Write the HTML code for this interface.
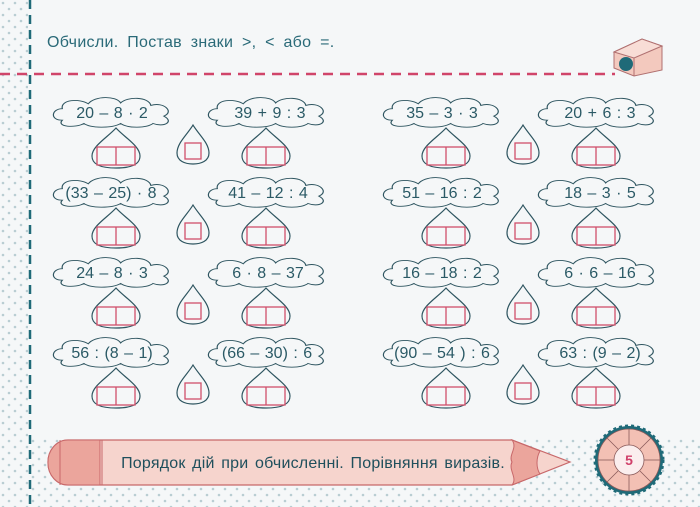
<!DOCTYPE html>
<html><head><meta charset="utf-8"><style>
html,body{margin:0;padding:0;background:#f5f7f8}
svg{display:block}
text{font-family:"Liberation Sans",sans-serif}
</style></head><body>
<svg width="700" height="507" viewBox="0 0 700 507" xmlns="http://www.w3.org/2000/svg">
<defs>
<pattern id="dots" width="12" height="12" patternUnits="userSpaceOnUse">
<circle cx="3" cy="3" r="1.3" fill="#b9cdd2"/><circle cx="9" cy="9" r="1.3" fill="#b9cdd2"/>
</pattern>
<symbol id="cloud" overflow="visible">
<path transform="scale(1.08,0.82)" d="M-46,10 C-58,10 -56,-4 -46,-4 C-48,-15 -30,-17 -22,-10 C-16,-20 4,-20 8,-11 C14,-19 34,-19 36,-8 C48,-13 58,0 48,5 C58,12 48,19 38,14 C32,20 14,20 8,14 C0,20 -20,20 -26,14 C-34,20 -52,18 -46,10Z" fill="#f5f7f8" stroke="#2e5560" stroke-width="1.1"/>
</symbol>
<symbol id="house" overflow="visible">
<path d="M0,-20 C8,-11 24,-2 24,8 C24,18 12,20 0,20 C-12,20 -24,18 -24,8 C-24,-2 -8,-11 0,-20Z" fill="#f5f7f8" stroke="#2e5560" stroke-width="1.2"/>
<rect x="-19" y="-1" width="38" height="18" fill="none" stroke="#d0506a" stroke-width="1.3"/>
<line x1="0" y1="-1" x2="0" y2="17" stroke="#d0506a" stroke-width="1.3"/>
</symbol>
<symbol id="drop" overflow="visible">
<path d="M0,-20 C6,-10 16,-2 16,8 C16,16 8,19 0,19 C-8,19 -16,16 -16,8 C-16,-2 -6,-10 0,-20Z" fill="#f5f7f8" stroke="#2e5560" stroke-width="1.2"/>
<rect x="-8" y="-2" width="16" height="16" fill="none" stroke="#d0506a" stroke-width="1.3"/>
</symbol>
</defs>
<rect x="0" y="0" width="28" height="507" fill="url(#dots)"/>
<rect x="28" y="438" width="672" height="69" fill="url(#dots)"/>
<line x1="30" y1="0" x2="30" y2="507" stroke="#1f6a78" stroke-width="2.5" stroke-dasharray="9,6"/>
<line x1="0" y1="74" x2="615" y2="74" stroke="#d0456a" stroke-width="2.5" stroke-dasharray="10,7"/>
<text x="47" y="47" font-size="16" word-spacing="4" letter-spacing="0.3" fill="#2a6a78">Обчисли. Постав знаки &gt;, &lt; або =.</text>
<g transform="translate(614,44)">
<path d="M0,8 L28,-5 L48,2 L48,26 L20,32 L0,24Z" fill="#f3c9be" stroke="#b07070" stroke-width="1"/>
<path d="M0,8 L28,-5 L48,2 L20,14Z" fill="#f8ddd6" stroke="#b07070" stroke-width="1"/>
<line x1="20" y1="14" x2="20" y2="32" stroke="#b07070"/>
<circle cx="12" cy="20" r="7" fill="#1f6a78"/>
</g>
<g font-size="16" word-spacing="1" fill="#2b5a66" text-anchor="middle">
<g>
<use href="#cloud" x="112" y="112"/><use href="#cloud" x="267" y="112"/>
<use href="#house" x="116" y="148"/><use href="#drop" x="193" y="145"/><use href="#house" x="266" y="148"/>
<use href="#cloud" x="112" y="192"/><use href="#cloud" x="267" y="192"/>
<use href="#house" x="116" y="228"/><use href="#drop" x="193" y="225"/><use href="#house" x="266" y="228"/>
<use href="#cloud" x="112" y="272"/><use href="#cloud" x="267" y="272"/>
<use href="#house" x="116" y="308"/><use href="#drop" x="193" y="305"/><use href="#house" x="266" y="308"/>
<use href="#cloud" x="112" y="352"/><use href="#cloud" x="267" y="352"/>
<use href="#house" x="116" y="388"/><use href="#drop" x="193" y="385"/><use href="#house" x="266" y="388"/>
</g>
<g>
<use href="#cloud" x="442" y="112"/><use href="#cloud" x="597" y="112"/>
<use href="#house" x="446" y="148"/><use href="#drop" x="523" y="145"/><use href="#house" x="596" y="148"/>
<use href="#cloud" x="442" y="192"/><use href="#cloud" x="597" y="192"/>
<use href="#house" x="446" y="228"/><use href="#drop" x="523" y="225"/><use href="#house" x="596" y="228"/>
<use href="#cloud" x="442" y="272"/><use href="#cloud" x="597" y="272"/>
<use href="#house" x="446" y="308"/><use href="#drop" x="523" y="305"/><use href="#house" x="596" y="308"/>
<use href="#cloud" x="442" y="352"/><use href="#cloud" x="597" y="352"/>
<use href="#house" x="446" y="388"/><use href="#drop" x="523" y="385"/><use href="#house" x="596" y="388"/>
</g>
<text x="112" y="118">20 – 8 · 2</text><text x="270" y="118">39 + 9 : 3</text>
<text x="111" y="198">(33 – 25) · 8</text><text x="268" y="198">41 – 12 : 4</text>
<text x="112" y="278">24 – 8 · 3</text><text x="268" y="278">6 · 8 – 37</text>
<text x="112" y="358">56 : (8 – 1)</text><text x="267" y="358">(66 – 30) : 6</text>
<text x="442" y="118">35 – 3 · 3</text><text x="600" y="118">20 + 6 : 3</text>
<text x="442" y="198">51 – 16 : 2</text><text x="600" y="198">18 – 3 · 5</text>
<text x="442" y="278">16 – 18 : 2</text><text x="600" y="278">6 · 6 – 16</text>
<text x="442" y="358">(90 – 54 ) : 6</text><text x="600" y="358">63 : (9 – 2)</text>
</g>
<path d="M68,440 L512,440 L570,462 L512,485 L68,485 A20,22 0 0 1 48,463 A20,22 0 0 1 68,440Z" fill="#f6d4cd" stroke="#c8686a" stroke-width="1.2"/>
<path d="M68,440 L100,440 L100,485 L68,485 A20,22 0 0 1 48,463 A20,22 0 0 1 68,440Z" fill="#eba59c" stroke="#c8686a" stroke-width="1"/>
<line x1="60" y1="440" x2="60" y2="485" stroke="#c8686a"/>
<line x1="102" y1="440" x2="102" y2="485" stroke="#c8686a"/>
<path d="M512,440 L540,451 C536,458 536,468 540,474 L512,485 C518,478 508,470 512,462 C508,455 518,448 512,440Z" fill="#eba59c" stroke="#c8686a" stroke-width="1"/>
<text x="313" y="468" font-size="16" word-spacing="2" letter-spacing="0.2" fill="#1f4f5c" text-anchor="middle">Порядок дій при обчисленні. Порівняння виразів.</text>
<g transform="translate(629,460)">
<circle r="34" fill="#1f6a78" stroke="#1f6a78" stroke-width="3" stroke-dasharray="3,3"/>
<circle r="31" fill="#f3c0b4" stroke="#8a5a5a" stroke-width="0.8"/>
<circle r="15" fill="#fbeeee" stroke="#8a5a5a" stroke-width="0.8"/>
<g stroke="#8a5a5a" stroke-width="0.8">
<line x1="15" y1="0" x2="31" y2="0"/><line x1="-15" y1="0" x2="-31" y2="0"/><line x1="0" y1="15" x2="0" y2="31"/><line x1="0" y1="-15" x2="0" y2="-31"/>
<line x1="11" y1="11" x2="22" y2="22"/><line x1="-11" y1="11" x2="-22" y2="22"/><line x1="11" y1="-11" x2="22" y2="-22"/><line x1="-11" y1="-11" x2="-22" y2="-22"/>
</g>
<text x="0" y="5" font-size="14" fill="#d0406a" text-anchor="middle" font-weight="bold">5</text>
</g>
</svg>
</body></html>
